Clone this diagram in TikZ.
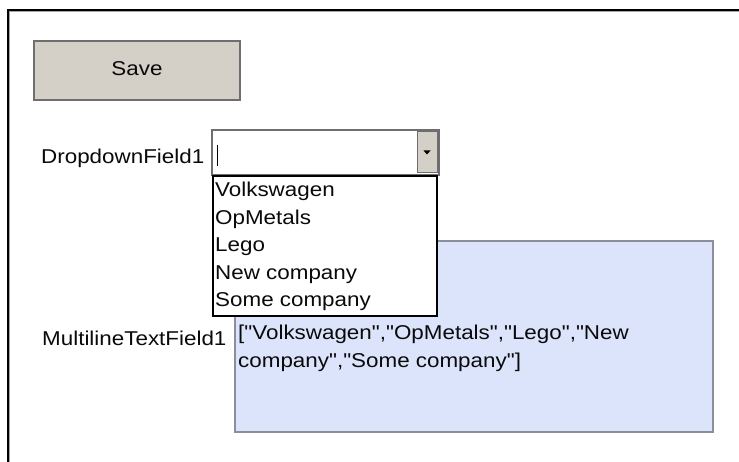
\documentclass[tikz,border=0pt]{standalone}
\usepackage{fontspec}
\setmainfont{Liberation Sans}
\newfontfamily\uifont{Liberation Sans}
\usepackage{graphicx}
\newcommand{\sx}[1]{\scalebox{1.12}[1]{#1}}
\definecolor{btnfill}{RGB}{212,208,200}
\definecolor{btnedge}{RGB}{110,110,110}
\definecolor{bluefill}{RGB}{220,228,252}
\definecolor{blueedge}{RGB}{140,142,156}
\definecolor{txt}{RGB}{10,10,10}
\begin{document}
\begin{tikzpicture}[x=1pt,y=-1pt,
  lbl/.style={inner sep=0pt, anchor=base west, font=\uifont\fontsize{20}{23}\selectfont, text=txt},
  savebtn/.style={draw=btnedge, fill=btnfill, line width=1.3pt, minimum width=206pt, minimum height=59pt, inner sep=0pt},
  ddbox/.style={draw=btnedge, fill=white, line width=1.3pt, minimum width=227pt, minimum height=45pt, inner sep=0pt},
  ddbtn/.style={draw=btnedge, fill=btnfill, line width=1pt, minimum width=20pt, minimum height=41pt, inner sep=0pt},
  listbox/.style={draw=black, fill=white, line width=2pt, minimum width=224pt, minimum height=140pt, inner sep=0pt},
  bluebox/.style={draw=blueedge, fill=bluefill, line width=1.8pt, minimum width=478pt, minimum height=191pt, inner sep=0pt}]
\useasboundingbox (0,0) rectangle (739,462);
\fill[white] (0,0) rectangle (739,462);
% frame
\draw[gray!70, line width=1pt] (9.5,462) -- (9.5,11.5) -- (739,11.5);
\draw[black, line width=1.6pt] (8,462) -- (8,10) -- (739,10);
% save button
\node[savebtn] (save) at (137,70.5) {};
\node[lbl, anchor=base] (savetxt) at (137,76) {\sx{Save}};
% dropdown
\node[lbl] (ddlabel) at (41,164) {\sx{DropdownField1}};
\node[ddbox] (dd) at (325.5,152.5) {};
\node[ddbtn] (ddb) at (427,152.5) {};
\fill[black] (423.5,150.5) -- (430.5,150.5) -- (427,154.5) -- cycle;
\draw[black, line width=1pt] (217,145) -- (217,166);
% multiline
\node[lbl] (mlabel) at (42,345) {\sx{MultilineTextField1}};
\node[bluebox] (mbox) at (474,336.5) {};
\node[lbl] (mline1) at (238,339) {\sx{["Volkswagen","OpMetals","Lego","New}};
\node[lbl] (mline2) at (238,367) {\sx{company","Some company"]}};
% list
\node[listbox] (list) at (325,246) {};
\node[lbl] (i1) at (215,197) {\sx{Volkswagen}};
\node[lbl] (i2) at (215,225) {\sx{OpMetals}};
\node[lbl] (i3) at (215,252) {\sx{Lego}};
\node[lbl] (i4) at (215,280) {\sx{New company}};
\node[lbl] (i5) at (215,307) {\sx{Some company}};
\end{tikzpicture}
\end{document}
